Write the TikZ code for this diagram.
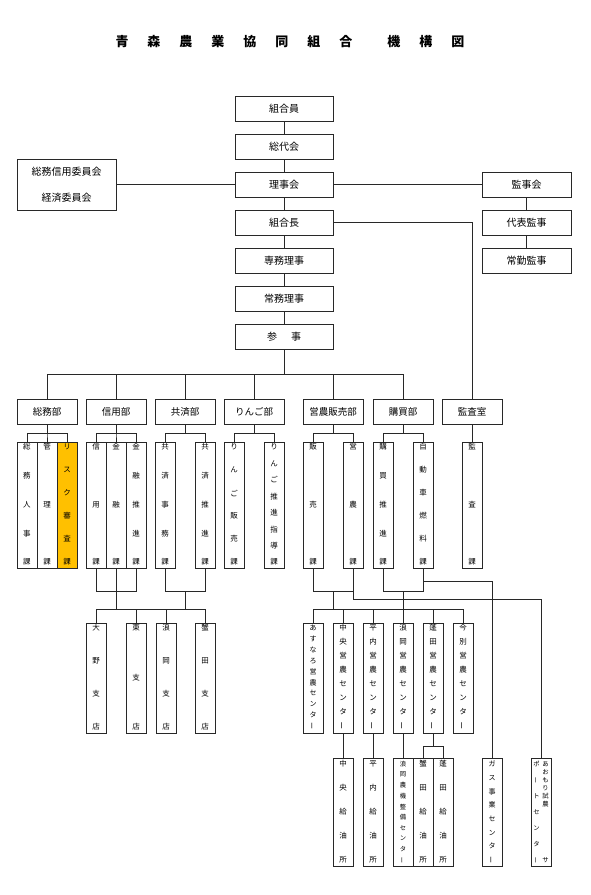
\documentclass[tikz,border=0pt]{standalone}
\usepackage{graphicx}
\usepackage{fontspec}
\setmainfont{Noto Sans CJK JP}
\definecolor{riskorange}{RGB}{255,192,0}
\definecolor{linegray}{RGB}{40,40,40}
\tikzset{
  box/.style={draw=linegray, line width=0.9pt, rectangle, inner sep=0pt, font=\fontsize{10pt}{12pt}\selectfont},
  deptbox/.style={box, font=\fontsize{9.5pt}{11pt}\selectfont},
  conn/.style={draw=linegray, line width=0.8pt},
  vch/.style={inner sep=0pt, font=\fontsize{7.5pt}{8pt}\selectfont},
  vchs/.style={inner sep=0pt, font=\fontsize{7pt}{8pt}\selectfont},
  vchxs/.style={inner sep=0pt, font=\fontsize{6.3pt}{7pt}\selectfont},
}
% \boxat[opts]{name}{x1}{y1}{x2}{y2}{text}
\newcommand{\boxat}[7][]{\node[box,minimum width={(#5)-(#3)},minimum height={(#6)-(#4)},#1] (#2) at ({((#3)+(#5))/2},{((#4)+(#6))/2}) {#7};}
% \vcol[style]{x}{ytop}{ybot}{n}{list}
\newcommand{\vcol}[6][vch]{\foreach \ch [count=\i from 0] in {#6}{\node[#1] at ({#2},{(#3)+\i*((#4)-(#3))/((#5)-1)}) {\ch};}}
\newcommand{\vb}{\rotatebox[origin=c]{90}{ー}}
\begin{document}
\begin{tikzpicture}[x=1pt,y=-1pt]
\fill[white] (0,0) rectangle (590,895);
\useasboundingbox (0,0) rectangle (590,895);

% title
\node[font=\fontsize{13pt}{15pt}\selectfont\bfseries] (title) at (290,42)
 {青\hspace{19pt}森\hspace{19pt}農\hspace{19pt}業\hspace{19pt}協\hspace{19pt}同\hspace{19pt}組\hspace{19pt}合\hspace{35pt}機\hspace{19pt}構\hspace{19pt}図};

% main column
\boxat{kumiaiin}{235}{96}{333}{121}{組合員}
\boxat{sodai}{235}{134}{333}{159}{総代会}
\boxat{rijikai}{235}{172}{333}{197}{理事会}
\boxat{kumicho}{235}{210}{333}{235}{組合長}
\boxat{senmu}{235}{248}{333}{273}{専務理事}
\boxat{jomu}{235}{286}{333}{311}{常務理事}
\boxat{sanji}{235}{324}{333}{349}{参\hspace{14pt}事}
\boxat[align=center,font=\fontsize{10pt}{26pt}\selectfont]{iinkai}{17}{159}{116}{210}{総務信用委員会\\経済委員会}
\boxat{kanjikai}{482}{172}{571}{197}{監事会}
\boxat{daihyo}{482}{210}{571}{235}{代表監事}
\boxat{jokin}{482}{248}{571}{273}{常勤監事}

\draw[conn] (kumiaiin.south) -- (sodai.north);
\draw[conn] (sodai.south) -- (rijikai.north);
\draw[conn] (rijikai.south) -- (kumicho.north);
\draw[conn] (kumicho.south) -- (senmu.north);
\draw[conn] (senmu.south) -- (jomu.north);
\draw[conn] (jomu.south) -- (sanji.north);
\draw[conn] (rijikai.west) -- (iinkai.east);
\draw[conn] (rijikai.east) -- (kanjikai.west);
\draw[conn] (kanjikai.south) -- (daihyo.north);
\draw[conn] (daihyo.south) -- (jokin.north);

% departments
\boxat[deptbox]{dsomu}{17}{399}{77}{424}{総務部}
\boxat[deptbox]{dshinyo}{86}{399}{146}{424}{信用部}
\boxat[deptbox]{dkyosai}{155}{399}{215}{424}{共済部}
\boxat[deptbox]{dringo}{224}{399}{284}{424}{りんご部}
\boxat[deptbox]{deino}{303}{399}{363}{424}{営農販売部}
\boxat[deptbox]{dkobai}{373}{399}{433}{424}{購買部}
\boxat[deptbox]{dkansa}{442}{399}{502}{424}{監査室}

\coordinate (bus) at (284,374);
\draw[conn] (sanji.south) -- (bus);
\foreach \d in {dsomu,dshinyo,dkyosai,dringo,deino,dkobai}{\draw[conn] (bus) -| (\d.north);}
\draw[conn] (kumicho.east) -| (dkansa.north);

% sections
\boxat{s1}{17}{442}{37}{568}{}
\boxat{s2}{37}{442}{57}{568}{}
\boxat[fill=riskorange]{s3}{57}{442}{77}{568}{}
\boxat{s4}{86}{442}{106}{568}{}
\boxat{s5}{106}{442}{126}{568}{}
\boxat{s6}{126}{442}{146}{568}{}
\boxat{s7}{155}{442}{175}{568}{}
\boxat{s8}{195}{442}{215}{568}{}
\boxat{s9}{224}{442}{244}{568}{}
\boxat{s10}{264}{442}{284}{568}{}
\boxat{s11}{303}{442}{323}{568}{}
\boxat{s12}{343}{442}{363}{568}{}
\boxat{s13}{373}{442}{393}{568}{}
\boxat{s14}{413}{442}{433}{568}{}
\boxat{s15}{462}{442}{482}{568}{}

\vcol{27}{447}{562}{5}{総,務,人,事,課}
\vcol{47}{447}{562}{3}{管,理,課}
\vcol{67}{447}{562}{6}{リ,ス,ク,審,査,課}
\vcol{96}{447}{562}{3}{信,用,課}
\vcol{116}{447}{562}{3}{金,融,課}
\vcol{136}{447}{562}{5}{金,融,推,進,課}
\vcol{165}{447}{562}{5}{共,済,事,務,課}
\vcol{205}{447}{562}{5}{共,済,推,進,課}
\vcol{234}{447}{562}{6}{り,ん,ご,販,売,課}
\vcol{274}{447}{562}{8}{り,ん,ご,推,進,指,導,課}
\vcol{313}{447}{562}{3}{販,売,課}
\vcol{353}{447}{562}{3}{営,農,課}
\vcol{383}{447}{562}{5}{購,買,推,進,課}
\vcol{423}{447}{562}{6}{自,動,車,燃,料,課}
\vcol{472}{447}{562}{3}{監,査,課}

\foreach \k in {s1,s2,s3}{\draw[conn] (dsomu.south) -- ++(0,9) -| (\k.north);}
\foreach \k in {s4,s5,s6}{\draw[conn] (dshinyo.south) -- ++(0,9) -| (\k.north);}
\foreach \k in {s7,s8}{\draw[conn] (dkyosai.south) -- ++(0,9) -| (\k.north);}
\foreach \k in {s9,s10}{\draw[conn] (dringo.south) -- ++(0,9) -| (\k.north);}
\foreach \k in {s11,s12}{\draw[conn] (deino.south) -- ++(0,9) -| (\k.north);}
\foreach \k in {s13,s14}{\draw[conn] (dkobai.south) -- ++(0,9) -| (\k.north);}
\draw[conn] (dkansa.south) -- (s15.north);

% branches
\boxat{b1}{86}{623}{106}{733}{}
\boxat{b2}{126}{623}{146}{733}{}
\boxat{b3}{156}{623}{176}{733}{}
\boxat{b4}{195}{623}{215}{733}{}
\vcol{96}{628}{727}{4}{大,野,支,店}
\vcol{136}{628}{727}{3}{東,支,店}
\vcol{166}{628}{727}{4}{浪,岡,支,店}
\vcol{205}{628}{727}{4}{蟹,田,支,店}

\coordinate (sb1) at (96,591);
\coordinate (sb2) at (136,591);
\coordinate (sbus) at (116,609);
\coordinate (kyb1) at (165,591);
\coordinate (kyb2) at (205,591);
\coordinate (kym) at (185,591);
\coordinate (kybus) at (185,609);
\draw[conn] (s4.south) -- (sb1) -- (sb2) -- (s6.south);
\draw[conn] (s5.south) -- (sbus);
\draw[conn] (s7.south) -- (kyb1) -- (kyb2) -- (s8.south);
\draw[conn] (kym) -- (kybus);
\foreach \k in {b1,b2,b3,b4}{\draw[conn] (sbus) -| (\k.north);}

% farming centers
\boxat{c1}{303}{623}{323}{733}{}
\boxat{c2}{333}{623}{353}{733}{}
\boxat{c3}{363}{623}{383}{733}{}
\boxat{c4}{393}{623}{413}{733}{}
\boxat{c5}{423}{623}{443}{733}{}
\boxat{c6}{453}{623}{473}{733}{}
\vcol[vchs]{313}{628}{726}{10}{あ,す,な,ろ,営,農,セ,ン,タ,\vb}
\vcol{343}{628}{726}{8}{中,央,営,農,セ,ン,タ,\vb}
\vcol{373}{628}{726}{8}{平,内,営,農,セ,ン,タ,\vb}
\vcol{403}{628}{726}{8}{浪,岡,営,農,セ,ン,タ,\vb}
\vcol{433}{628}{726}{8}{蓬,田,営,農,セ,ン,タ,\vb}
\vcol{463}{628}{726}{8}{今,別,営,農,セ,ン,タ,\vb}

% lower boxes
\boxat{l1}{333}{758}{353}{866}{}
\boxat{l2}{363}{758}{383}{866}{}
\boxat{l3}{393}{758}{413}{866}{}
\boxat{l4}{413}{758}{433}{866}{}
\boxat{l5}{433}{758}{453}{866}{}
\boxat{g1}{482}{758}{502}{866}{}
\boxat{g2}{531}{758}{551}{866}{}
\vcol{343}{764}{860}{5}{中,央,給,油,所}
\vcol{373}{764}{860}{5}{平,内,給,油,所}
\vcol[vchxs]{403}{764}{860}{10}{浪,岡,農,機,整,備,セ,ン,タ,\vb}
\vcol{423}{764}{860}{5}{蟹,田,給,油,所}
\vcol{443}{764}{860}{5}{蓬,田,給,油,所}
\vcol[vchs]{492}{764}{860}{8}{ガ,ス,事,業,セ,ン,タ,\vb}
\vcol[vchxs]{545.5}{764}{804}{6}{あ,お,も,り,試,農}
\node[vchxs] (g2sa) at (545.5,860) {サ};
\vcol[vchxs]{536.5}{764}{860}{7}{ポ,\vb,ト,セ,ン,タ,\vb}

% lower connectors
\coordinate (eb1) at (313,591);
\coordinate (eb2) at (353,591);
\coordinate (ebm) at (333,591);
\coordinate (eg) at (353,599);
\coordinate (ebus) at (333,609);
\draw[conn] (s11.south) -- (eb1) -- (eb2);
\draw[conn] (s12.south) -- (eg) -| (g2.north);
\draw[conn] (ebm) -- (ebus);
\foreach \k in {c1,c2,c3,c5,c6}{\draw[conn] (ebus) -| (\k.north);}

\coordinate (kb1) at (383,591);
\coordinate (kb2) at (423,591);
\coordinate (kbm) at (403,591);
\coordinate (kg) at (423,581);
\draw[conn] (s13.south) -- (kb1) -- (kb2) -- (s14.south);
\draw[conn] (kbm) -- (c4.north);
\draw[conn] (kg) -| (g1.north);

\draw[conn] (c2.south) -- (l1.north);
\draw[conn] (c3.south) -- (l2.north);
\draw[conn] (c4.south) -- (l3.north);
\coordinate (hj) at (433,746);
\draw[conn] (c5.south) -- (hj);
\draw[conn] (hj) -| (l4.north);
\draw[conn] (hj) -| (l5.north);
\end{tikzpicture}
\end{document}
